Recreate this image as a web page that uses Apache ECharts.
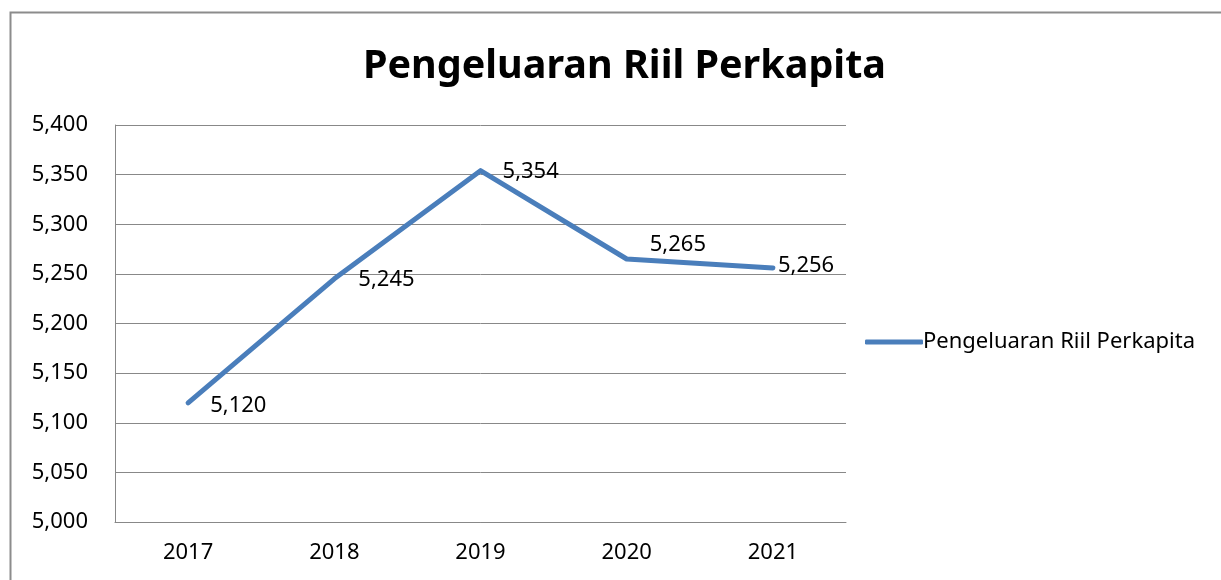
<!DOCTYPE html>
<html>
<head>
<meta charset="utf-8">
<script src="https://cdn.jsdelivr.net/npm/echarts@6/dist/echarts.min.js"></script>
<style>
  html, body { margin: 0; padding: 0; background: #fff; }
  #chart { width: 1221px; height: 580px; }
</style>
</head>
<body>
<div id="chart"></div>
<script>
var years = ['2017', '2018', '2019', '2020', '2021'];
var values = [5120, 5245, 5354, 5265, 5256];
var seriesName = 'Pengeluaran Riil Perkapita';
// label placement per point (distance, offset) - tweaked by eye
var labelDist = [22, 24, 22, 23, 5];
var labelOffY = [3, 1, 1, -14, -2];

var fontFam = '"Noto Sans", "Open Sans", sans-serif';
var lineColor = '#4a7ebb';

function fmt(v) {
    return Number(v).toLocaleString('en-US');
}

var dom = document.getElementById('chart');
var myChart = echarts.init(dom);

var dataArr = [];
for (let i = 0; i < values.length; i++) {
    dataArr.push({
        value: values[i],
        label: {
            distance: labelDist[i],
            offset: [0, labelOffY[i]]
        }
    });
}

var option = {
    backgroundColor: '#fff',
    animation: false,
    title: {
        text: seriesName,
        left: 358,
        top: 42,
        textStyle: {
            fontFamily: fontFam,
            fontWeight: 'bold',
            fontSize: 39.5,
            color: '#000'
        }
    },
    graphic: [{
        type: 'rect',
        shape: { x: 10.5, y: 12.5, width: 1230, height: 600 },
        style: { fill: 'none', stroke: '#8c8c8c', lineWidth: 2 },
        silent: true,
        z: -1
    }],
    legend: {
        data: [seriesName],
        orient: 'vertical',
        left: 860,
        top: 326,
        icon: 'roundRect',
        itemWidth: 58,
        itemHeight: 5,
        itemGap: 4,
        itemStyle: { color: lineColor },
        textStyle: {
            fontFamily: fontFam,
            fontSize: 22,
            color: '#000',
            padding: [0, 0, 0, -5]
        }
    },
    grid: {
        left: 115,
        right: 375,
        top: 125,
        bottom: 58
    },
    xAxis: {
        type: 'category',
        boundaryGap: true,
        data: years,
        axisLine: { lineStyle: { color: '#888', width: 1 } },
        axisTick: { show: false },
        axisLabel: {
            margin: 20,
            fontFamily: fontFam,
            fontSize: 22,
            color: '#000'
        }
    },
    yAxis: {
        type: 'value',
        min: 5000,
        max: 5400,
        interval: 50,
        axisLine: { show: true, lineStyle: { color: '#888', width: 1 } },
        axisTick: { show: false },
        splitLine: { lineStyle: { color: '#888', width: 1 } },
        axisLabel: {
            margin: 27,
            fontFamily: fontFam,
            fontSize: 22,
            color: '#000',
            formatter: fmt
        }
    },
    series: [{
        name: seriesName,
        type: 'line',
        data: dataArr,
        showSymbol: true,
        symbol: 'circle',
        symbolSize: 0.1,
        lineStyle: { color: lineColor, width: 5, cap: 'round', join: 'round' },
        itemStyle: { color: lineColor },
        label: {
            show: true,
            position: 'right',
            fontFamily: fontFam,
            fontSize: 22,
            color: '#000',
            formatter: function (p) { return fmt(p.value); }
        }
    }]
};

myChart.setOption(option, true);
window.onresize = myChart.resize;
</script>
</body>
</html>
